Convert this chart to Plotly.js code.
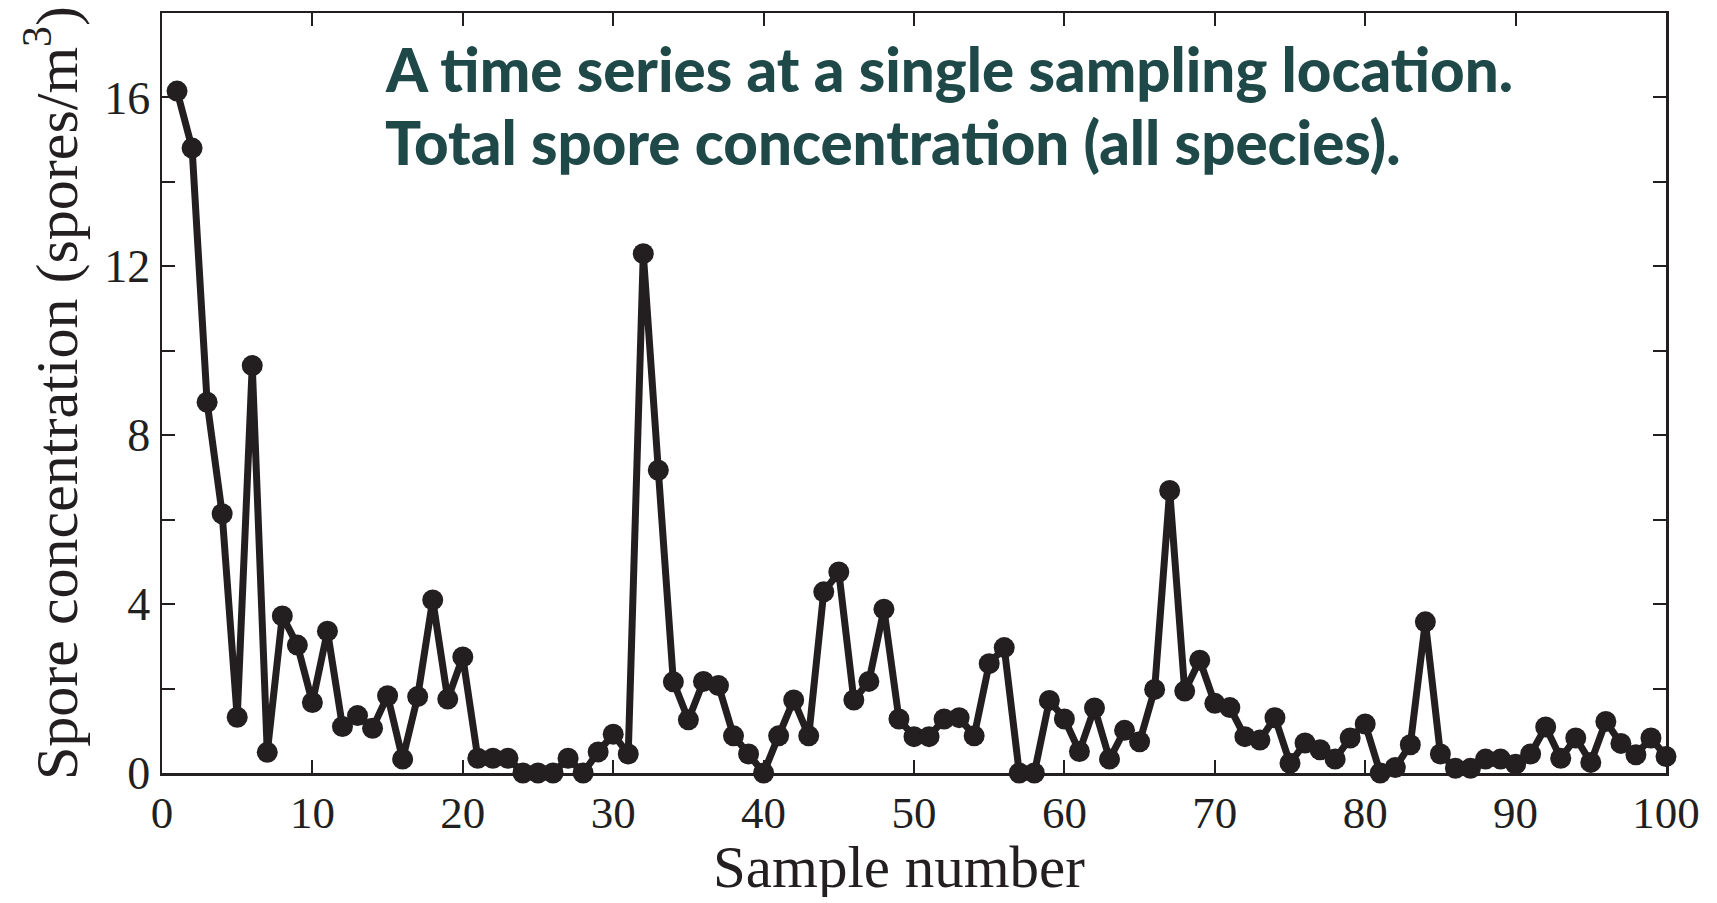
<!DOCTYPE html>
<html>
<head>
<meta charset="utf-8">
<script src="https://cdn.plot.ly/plotly-3.0.1.min.js"></script>
<style>html,body{margin:0;padding:0;background:#fff;}#chart{width:1717px;height:903px;}</style>
</head>
<body>
<div id="chart"></div>
<script>
const sampleNumber = [];
for (let i = 1; i <= 100; i++) sampleNumber.push(i);

const concentration = [
  16.15, 14.8, 8.78, 6.14, 1.32, 9.65, 0.49, 3.72, 3.03, 1.67,
  3.36, 1.10, 1.36, 1.06, 1.83, 0.33, 1.81, 4.10, 1.75, 2.75,
  0.35, 0.35, 0.35, 0.0, 0.0, 0.0, 0.35, 0.0, 0.50, 0.92,
  0.45, 12.3, 7.17, 2.16, 1.26, 2.17, 2.07, 0.88, 0.45, 0.0,
  0.88, 1.73, 0.88, 4.29, 4.76, 1.73, 2.17, 3.88, 1.28, 0.86,
  0.86, 1.28, 1.31, 0.88, 2.59, 2.97, 0.0, 0.0, 1.72, 1.28,
  0.51, 1.54, 0.33, 1.01, 0.74, 1.98, 6.69, 1.94, 2.67, 1.65,
  1.55, 0.86, 0.78, 1.31, 0.23, 0.71, 0.55, 0.33, 0.83, 1.16,
  0.0, 0.13, 0.67, 3.58, 0.45, 0.11, 0.11, 0.33, 0.33, 0.21,
  0.45, 1.09, 0.35, 0.83, 0.25, 1.22, 0.70, 0.43, 0.83, 0.39
];

const xTickVals = [0, 10, 20, 30, 40, 50, 60, 70, 80, 90, 100];
const xTickText = ['0', '10', '20', '30', '40', '50', '60', '70', '80', '90', '100'];
const yTickVals = [0, 4, 8, 12, 16];
const yTickText = ['0', '4', '8', '12', '16'];
const yMinorTickVals = [2, 6, 10, 14];
const titleLines = ['A time series at a single sampling location.', 'Total spore concentration (all species).'];
const xTitle = 'Sample number';
const yTitle = 'Spore concentration (spores/m<sup>3</sup>)';

const ink = '#231f20';
const serif = 'Liberation Serif, Times New Roman, serif';
const teal = '#1f4949';

const trace = {
  x: sampleNumber,
  y: concentration,
  type: 'scatter',
  mode: 'lines+markers',
  line: {color: ink, width: 7},
  marker: {color: ink, size: 21},
  cliponaxis: false,
  hoverinfo: 'x+y'
};

const layout = {
  width: 1717,
  height: 903,
  paper_bgcolor: '#ffffff',
  plot_bgcolor: '#ffffff',
  showlegend: false,
  margin: {l: 162, r: 51, t: 13, b: 130, pad: 0},
  font: {family: serif, color: ink},
  xaxis: {
    range: [0, 100],
    tickvals: xTickVals,
    ticktext: xTickText,
    ticks: 'inside',
    ticklen: 13,
    tickwidth: 2,
    tickcolor: ink,
    showline: true,
    linecolor: ink,
    linewidth: 2.5,
    mirror: 'ticks',
    showgrid: false,
    zeroline: false,
    tickfont: {family: serif, size: 45, color: ink},
    ticklabelstandoff: -2
  },
  yaxis: {
    range: [0, 18],
    tickvals: yTickVals,
    ticktext: yTickText,
    ticks: 'inside',
    ticklen: 13,
    tickwidth: 2,
    tickcolor: ink,
    minor: {tickvals: yMinorTickVals, ticks: 'inside', ticklen: 13, tickwidth: 2, tickcolor: ink, showgrid: false},
    showline: true,
    linecolor: ink,
    linewidth: 2.5,
    mirror: 'ticks',
    showgrid: false,
    zeroline: false,
    tickfont: {family: serif, size: 46, color: ink},
    ticklabelstandoff: 0,
    title: {text: yTitle, font: {family: serif, size: 60, color: ink}, standoff: 8}
  },
  annotations: [
    {
      xref: 'paper', yref: 'paper',
      x: 0.147, y: 0.926,
      xanchor: 'left', yanchor: 'middle',
      showarrow: false,
      text: titleLines[0],
      font: {family: 'Lato, Open Sans, sans-serif', size: 60, color: teal, weight: 900}
    },
    {
      xref: 'paper', yref: 'paper',
      x: 0.147, y: 0.830,
      xanchor: 'left', yanchor: 'middle',
      showarrow: false,
      text: titleLines[1],
      font: {family: 'Lato, Open Sans, sans-serif', size: 60, color: teal, weight: 900}
    },
    {
      xref: 'paper', yref: 'paper',
      x: 0.49, y: -0.124,
      xanchor: 'center', yanchor: 'middle',
      height: 60,
      valign: 'middle',
      showarrow: false,
      text: xTitle,
      font: {family: serif, size: 59, color: ink}
    }
  ]
};

Plotly.newPlot('chart', [trace], layout, {displayModeBar: false, staticPlot: true});
</script>
</body>
</html>
